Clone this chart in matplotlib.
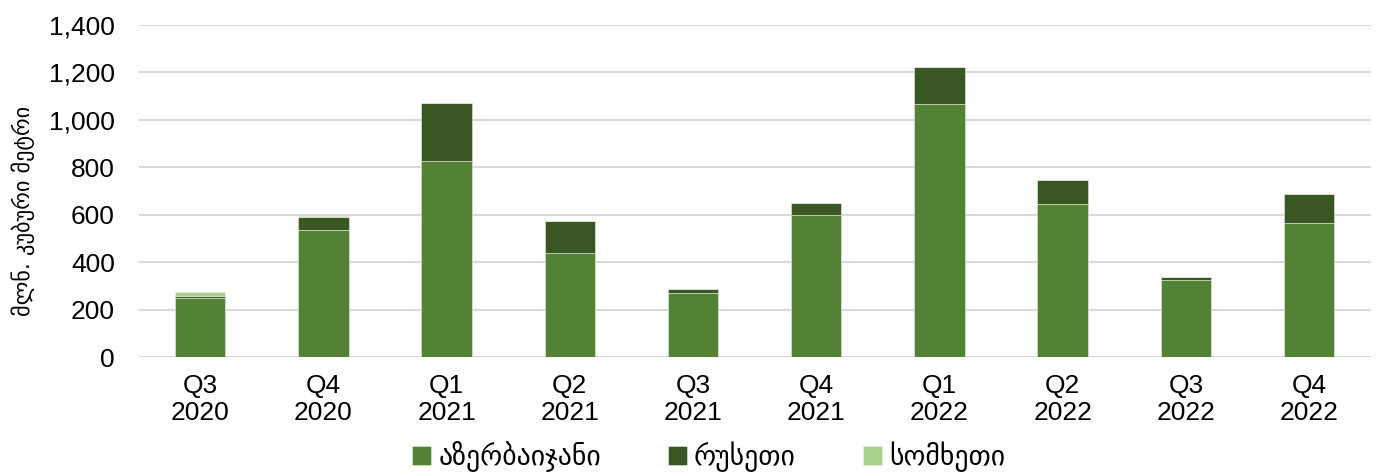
import numpy as np
import matplotlib
matplotlib.use("Agg")
import matplotlib.pyplot as plt

plt.rcParams['font.family'] = ['Liberation Sans', 'DejaVu Sans']

quarters = ["Q3\n2020", "Q4\n2020", "Q1\n2021", "Q2\n2021", "Q3\n2021",
            "Q4\n2021", "Q1\n2022", "Q2\n2022", "Q3\n2022", "Q4\n2022"]
azerbaijan = [250, 534, 827, 439, 270, 599, 1066, 644, 323, 564]
russia = [9, 56, 244, 135, 17, 48, 156, 100, 16, 122]
armenia = [14, 3, 0, 0, 0, 0, 0, 0, 0, 0]

series_names = ["აზერბაიჯანი", "რუსეთი", "სომხეთი"]
colors = ["#548235", "#3a5623", "#a9d18e"]
y_label = "მლნ. კუბური მეტრი"

fig = plt.figure(figsize=(13.81, 4.72), dpi=100)
ax = fig.add_axes([0.1003, 0.2436, 0.8922, 0.7041])

x = np.arange(len(quarters))
w = 0.41
bottom = np.zeros(len(quarters))
for vals, name, c in zip([azerbaijan, russia, armenia], series_names, colors):
    ax.bar(x, vals, w, bottom=bottom, color=c, label=name,
           edgecolor="#e8f0e0", linewidth=0.4, zorder=3)
    bottom += np.array(vals)

ax.set_xlim(-0.5, len(quarters) - 0.5)
ax.set_ylim(0, 1400)
ax.set_yticks(range(0, 1401, 200))
ax.set_yticklabels([f"{v:,}" for v in range(0, 1401, 200)], fontsize=19)
ax.set_xticks(x)
ax.set_xticklabels(quarters, fontsize=19, linespacing=1.2)
ax.tick_params(axis="y", length=0, pad=17)
ax.tick_params(axis="x", length=0, pad=12)
ax.grid(axis="y", color="#d9d9d9", linewidth=1.5, zorder=0)
for s in ax.spines.values():
    s.set_visible(False)

ax.set_ylabel(y_label, fontsize=16, family=['DejaVu Sans'])
ax.yaxis.set_label_coords(-0.084, 0.44)

handles, labels = ax.get_legend_handles_labels()
fig.legend(handles, labels, loc="center", bbox_to_anchor=(0.513, 0.032), ncol=3,
           frameon=False, handlelength=0.7, handleheight=0.7,
           handletextpad=0.25, columnspacing=2.4,
           prop={'family': ['DejaVu Sans'], 'size': 20})

fig.savefig("out.png", dpi=100)
